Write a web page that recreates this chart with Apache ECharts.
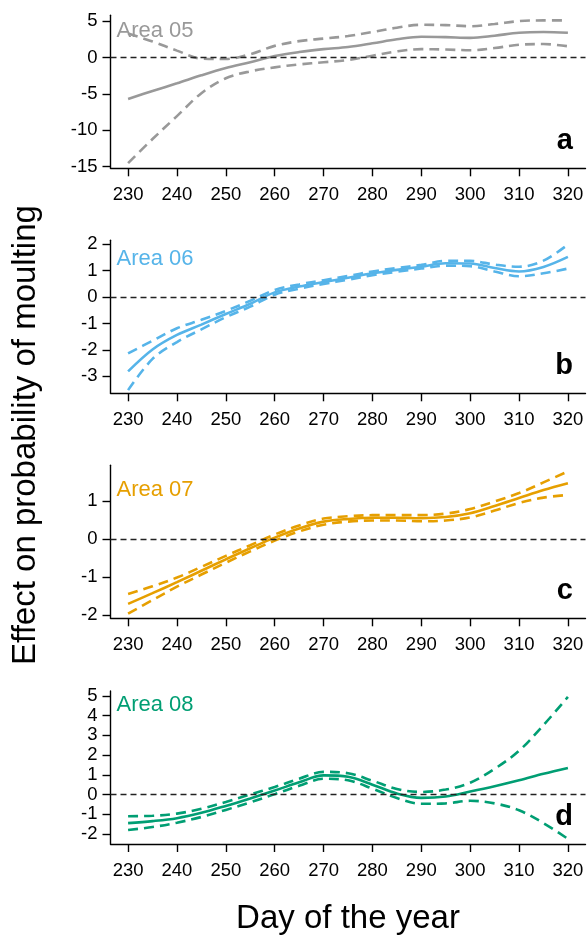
<!DOCTYPE html>
<html><head><meta charset="utf-8">
<script src="https://cdn.jsdelivr.net/npm/echarts@6/dist/echarts.min.js"></script>
<style>html,body{margin:0;padding:0;background:#fff}#c{width:587px;height:937px}</style>
</head><body><div id="c"></div>
<script>
const days = [230,235,240,245,250,255,260,265,270,275,280,285,290,295,300,305,310,315,320];
const xTicks = [230,240,250,260,270,280,290,300,310,320];

const area05Fit = [-5.7,-4.6,-3.55,-2.45,-1.45,-0.65,0.2,0.75,1.15,1.45,1.95,2.5,2.85,2.8,2.7,3.0,3.4,3.5,3.4];
const area05Hi  = [3.3,2.2,0.95,-0.15,-0.2,0.45,1.6,2.25,2.6,2.95,3.5,4.1,4.5,4.45,4.3,4.6,5.0,5.1,5.1];
const area05Lo  = [-14.5,-11.2,-8.05,-4.9,-2.85,-1.9,-1.35,-0.95,-0.65,-0.35,0.25,0.85,1.15,1.1,1.0,1.3,1.75,1.85,1.55];
const area05Ticks = [-15,-10,-5,0,5];

const area06Fit = [-2.81,-1.98,-1.43,-1.04,-0.64,-0.25,0.18,0.40,0.57,0.73,0.90,1.03,1.15,1.28,1.27,1.10,0.97,1.14,1.52];
const area06Hi  = [-2.13,-1.65,-1.18,-0.86,-0.52,-0.14,0.27,0.48,0.64,0.80,0.97,1.10,1.22,1.37,1.37,1.23,1.15,1.38,1.99];
const area06Lo  = [-3.52,-2.34,-1.70,-1.22,-0.76,-0.36,0.09,0.32,0.50,0.66,0.83,0.96,1.08,1.19,1.17,0.97,0.79,0.90,1.08];
const area06Ticks = [-3,-2,-1,0,1,2];

const area07Fit = [-1.70,-1.42,-1.13,-0.83,-0.53,-0.24,0.04,0.28,0.46,0.53,0.56,0.56,0.55,0.58,0.68,0.87,1.08,1.29,1.47];
const area07Hi  = [-1.44,-1.24,-1.01,-0.73,-0.44,-0.16,0.12,0.36,0.54,0.60,0.63,0.63,0.63,0.67,0.79,0.99,1.21,1.49,1.78];
const area07Lo  = [-1.96,-1.60,-1.25,-0.93,-0.62,-0.32,-0.04,0.20,0.38,0.46,0.49,0.49,0.47,0.49,0.57,0.75,0.95,1.09,1.16];
const area07Ticks = [-2,-1,0,1];

const area08Fit = [-1.45,-1.35,-1.20,-0.93,-0.58,-0.20,0.20,0.62,0.97,0.90,0.50,0.05,-0.17,-0.10,0.15,0.42,0.72,1.05,1.35];
const area08Hi  = [-1.10,-1.08,-0.97,-0.72,-0.38,0.00,0.38,0.80,1.15,1.08,0.70,0.28,0.13,0.25,0.60,1.30,2.22,3.52,4.95];
const area08Lo  = [-1.80,-1.65,-1.43,-1.14,-0.78,-0.40,0.02,0.44,0.80,0.72,0.30,-0.18,-0.47,-0.45,-0.32,-0.45,-0.80,-1.45,-2.25];
const area08Ticks = [-2,-1,0,1,2,3,4,5];

const FONT = '"Liberation Sans", Arial, sans-serif';
const panels = [
  {name:'Area 05', letter:'a', color:'#999999', fit:area05Fit, hi:area05Hi, lo:area05Lo, ticks:area05Ticks, ymin:-15.22, ymax:5.8, top:15.3, labelY:31},
  {name:'Area 06', letter:'b', color:'#56B4E9', fit:area06Fit, hi:area06Hi, lo:area06Lo, ticks:area06Ticks, ymin:-3.64, ymax:2.15, top:240.3, labelY:259},
  {name:'Area 07', letter:'c', color:'#E69F00', fit:area07Fit, hi:area07Hi, lo:area07Lo, ticks:area07Ticks, ymin:-2.08, ymax:1.94, top:465.3, labelY:490},
  {name:'Area 08', letter:'d', color:'#009E73', fit:area08Fit, hi:area08Hi, lo:area08Lo, ticks:area08Ticks, ymin:-2.51, ymax:5.25, top:691, labelY:705}
];
const H = 153;

const zip = arr => days.map((d,i)=>[d, arr[i]]);
const grid=[], xAxis=[], yAxis=[], series=[], graphic=[];
panels.forEach((p,i)=>{
  grid.push({left:110.5, width:475, top:p.top, height:H});
  xAxis.push({type:'value', gridIndex:i, min:226.4, max:323.6,
    axisLine:{show:true, onZero:false, lineStyle:{color:'#000', width:1.4}},
    axisTick:{show:true, length:8, customValues:xTicks, lineStyle:{color:'#000', width:1.4}},
    axisLabel:{customValues:xTicks, fontSize:18.5, color:'#000', margin:17, fontFamily:FONT},
    splitLine:{show:false}});
  yAxis.push({type:'value', gridIndex:i, min:p.ymin, max:p.ymax,
    axisLine:{show:true, onZero:false, lineStyle:{color:'#000', width:1.4}},
    axisTick:{show:true, length:8, customValues:p.ticks, lineStyle:{color:'#000', width:1.4}},
    axisLabel:{customValues:p.ticks, fontSize:18.5, color:'#000', margin:13, fontFamily:FONT},
    splitLine:{show:false}});
  const base = {type:'line', xAxisIndex:i, yAxisIndex:i, showSymbol:false, symbol:'none', smooth:0.35, silent:true};
  series.push(Object.assign({}, base, {name:p.name+' fit', data:zip(p.fit), lineStyle:{color:p.color, width:2.6},
    markLine:{silent:true, symbol:'none', label:{show:false}, animation:false,
      lineStyle:{type:[6,4], color:'#222', width:1.3}, data:[{yAxis:0}]}}));
  series.push(Object.assign({}, base, {name:p.name+' upper', data:zip(p.hi), lineStyle:{color:p.color, width:2.6, type:[10,6]}}));
  series.push(Object.assign({}, base, {name:p.name+' lower', data:zip(p.lo), lineStyle:{color:p.color, width:2.6, type:[10,6]}}));
  graphic.push({type:'text', x:116.5, y:p.labelY, style:{text:p.name, font:'22px '+FONT, fill:p.color, textAlign:'left', textVerticalAlign:'middle', align:'left', verticalAlign:'middle'}});
  graphic.push({type:'text', x:573, y:p.top+H-27, style:{text:p.letter, font:'bold 29px '+FONT, fill:'#000', textAlign:'right', textVerticalAlign:'middle', align:'right', verticalAlign:'middle'}});
});
graphic.push({type:'text', x:26, y:435, rotation:Math.PI/2, style:{text:'Effect on probability of moulting', font:'33px '+FONT, fill:'#000', textAlign:'center', textVerticalAlign:'middle', align:'center', verticalAlign:'middle'}});
graphic.push({type:'text', x:348, y:919, style:{text:'Day of the year', font:'33px '+FONT, fill:'#000', textAlign:'center', textVerticalAlign:'middle', align:'center', verticalAlign:'middle'}});

const chart = echarts.init(document.getElementById('c'), null, {renderer:'canvas'});
chart.setOption({animation:false, backgroundColor:'#fff', grid, xAxis, yAxis, series, graphic});
</script></body></html>
